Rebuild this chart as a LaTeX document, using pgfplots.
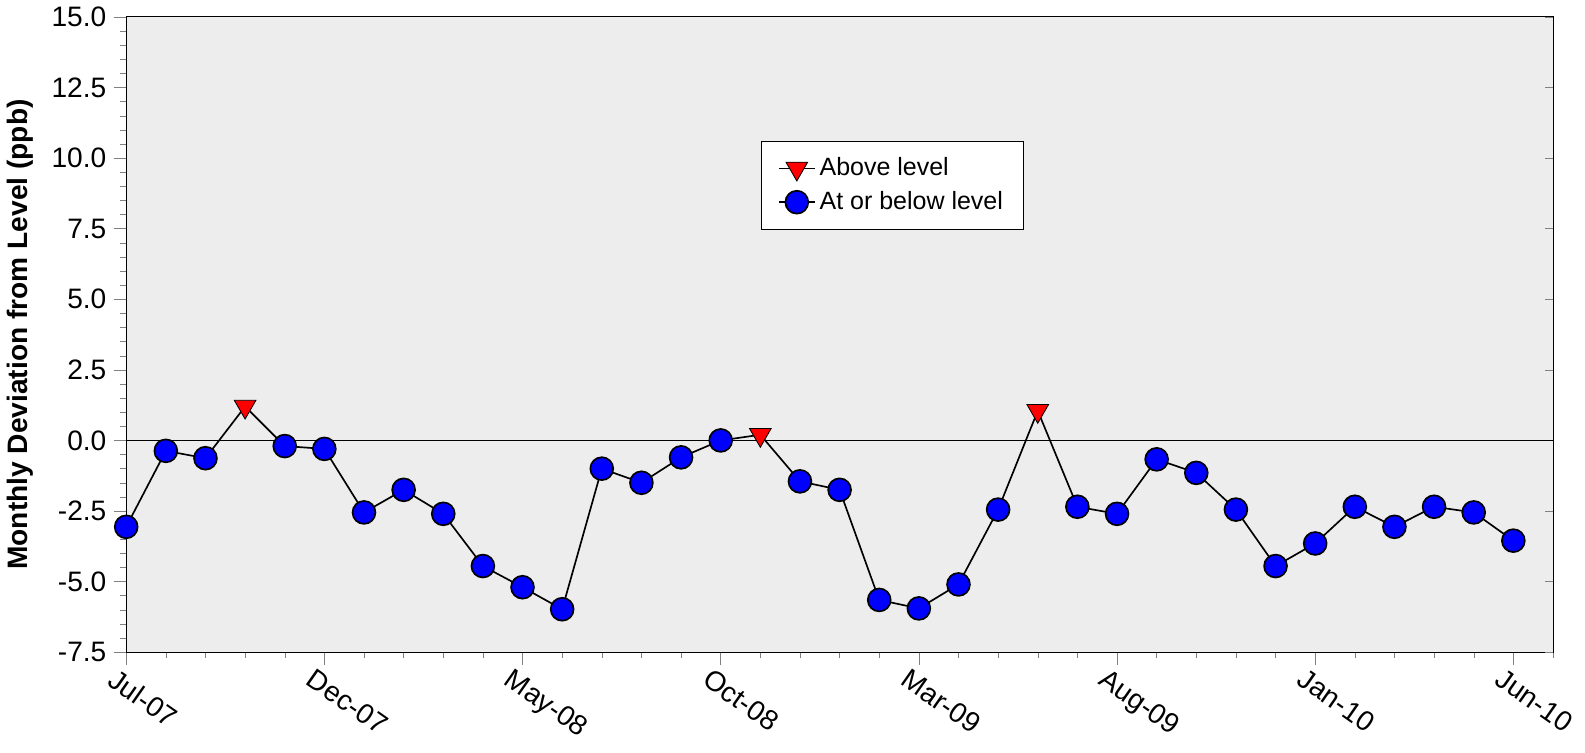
\documentclass[border=0pt]{standalone}
\usepackage{pgfplots}
\pgfplotsset{compat=1.18}
\usepackage{fontspec}
\setmainfont{Liberation Sans}
\begin{document}
\begin{tikzpicture}
\begin{axis}[
  scale only axis, width=685pt, height=305pt,
  xmin=0, xmax=36, ymin=-7.5, ymax=15,
  axis background/.style={fill=black!7},
  xtick={0,5,...,35}, minor xtick={0,...,36},
  xticklabels={Jul-07,Dec-07,May-08,Oct-08,Mar-09,Aug-09,Jan-10,Jun-10},
  xticklabel style={rotate=-35, anchor=north west, font=\fontsize{13.5}{15}\selectfont, xshift=-6pt},
  ytick={-7.5,-5,...,15}, minor y tick num=4,
  yticklabel style={font=\fontsize{13.5}{15}\selectfont, /pgf/number format/fixed, /pgf/number format/fixed zerofill, /pgf/number format/precision=1},
  /pgf/number format/assume math mode=true,
  tick align=outside, major tick length=6pt, minor tick length=3pt,
  xtick pos=bottom, ytick pos=left,
  extra y ticks={-7.5,-5,...,15}, extra y tick labels={}, extra y tick style={tick pos=right, tick align=inside, major tick length=4pt},
  ylabel={\bfseries Monthly Deviation from Level (ppb)},
  ylabel style={font=\fontsize{13.5}{15}\selectfont, yshift=-4pt},
  legend style={at={(0.445,0.805)}, anchor=north west, font=\fontsize{12}{14}\selectfont, draw=black, inner xsep=8pt, inner ysep=6pt, row sep=2pt},
  legend cell align=left,
  legend image post style={},
]
\addplot[black, thin, forget plot] coordinates {(0,0)(36,0)};
\addplot[black, thick, forget plot] coordinates {
(0,-3.06)(1,-0.37)(2,-0.63)(3,1.2)(4,-0.2)(5,-0.3)(6,-2.55)(7,-1.75)(8,-2.6)(9,-4.45)
(10,-5.2)(11,-5.98)(12,-1.0)(13,-1.5)(14,-0.6)(15,0.0)(16,0.2)(17,-1.45)(18,-1.75)(19,-5.65)
(20,-5.95)(21,-5.1)(22,-2.45)(23,1.05)(24,-2.35)(25,-2.6)(26,-0.67)(27,-1.15)(28,-2.45)(29,-4.45)
(30,-3.65)(31,-2.35)(32,-3.06)(33,-2.35)(34,-2.55)(35,-3.55)};
\addplot[black, thin, mark=triangle*, mark options={rotate=180, fill=red, draw=black, solid}, mark size=6pt, draw=none, legend image post style={draw=black, thin}] coordinates {(3,1.2)(16,0.2)(23,1.05)};
\addlegendentry{Above level}
\addplot[black, thick, mark=*, mark options={fill=blue, draw=black}, mark size=5.5pt, draw=none, legend image post style={draw=black, thick}] coordinates {
(0,-3.06)(1,-0.37)(2,-0.63)(4,-0.2)(5,-0.3)(6,-2.55)(7,-1.75)(8,-2.6)(9,-4.45)
(10,-5.2)(11,-5.98)(12,-1.0)(13,-1.5)(14,-0.6)(15,0.0)(17,-1.45)(18,-1.75)(19,-5.65)
(20,-5.95)(21,-5.1)(22,-2.45)(24,-2.35)(25,-2.6)(26,-0.67)(27,-1.15)(28,-2.45)(29,-4.45)
(30,-3.65)(31,-2.35)(32,-3.06)(33,-2.35)(34,-2.55)(35,-3.55)};
\addlegendentry{At or below level}
\end{axis}
\end{tikzpicture}
\end{document}
